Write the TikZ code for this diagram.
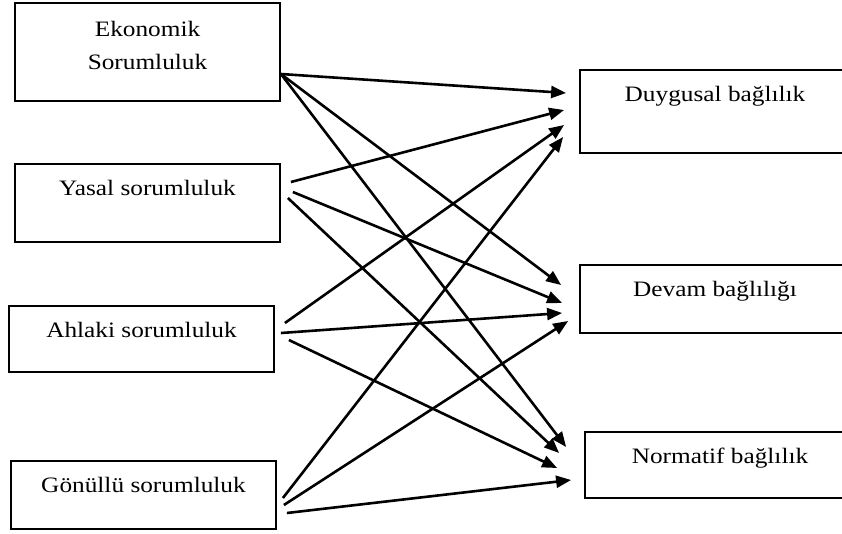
\documentclass[tikz,border=0pt]{standalone}
\usepackage{fontspec}
\setmainfont{Liberation Serif}[FakeStretch=1.15]
\usepackage{tikz}
\usetikzlibrary{arrows.meta,positioning}
\tikzset{>={Triangle[length=15pt,width=12pt]},box/.style={rectangle,draw,line width=1.8pt,minimum width=265pt,inner sep=0pt},rbox/.style={box,minimum width=270pt},box text/.style={anchor=north,inner sep=0pt,yshift=-17pt,align=center,font=\fontsize{22pt}{33pt}\selectfont},edge/.style={line width=2.6pt}}

\begin{document}
\begin{tikzpicture}[x=1pt,y=1pt]
    \path[use as bounding box, clip] (0,0) rectangle (842,-533);

    \node[box, minimum height=98pt, label={[box text, yshift=-2pt]north:{Ekonomik\\Sorumluluk}}] (eko) at (147.5,-52) {};
    \node[box, on grid, minimum height=78pt, label={[box text]north:Yasal sorumluluk}] (yasal) [below = 151pt of eko] {};
    \node[box, on grid, minimum height=66pt, label={[box text]north:Ahlaki sorumluluk}] (ahlaki) [below left = 136pt and 6pt of yasal] {};
    \node[box, on grid, minimum height=68pt, label={[box text]north:Gönüllü sorumluluk}] (gonullu) [below right = 156pt and 2pt of ahlaki] {};

    \node[rbox, on grid, minimum height=83pt, label={[box text]north:Duygusal bağlılık}] (duygusal) [below right = 59.5pt and 567.5pt of eko] {};
    \node[rbox, on grid, minimum height=68pt, label={[box text]north:Devam bağlılığı}] (devam) [below = 187.5pt of duygusal] {};
    \node[rbox, on grid, minimum height=66pt, label={[box text]north:Normatif bağlılık}] (normatif) [below right = 166pt and 5pt of devam] {};

    \path[edge] ([yshift=-22pt]eko.east) edge [->] ([xshift=-13pt,yshift=18.5pt]duygusal.west);
    \path[edge] ([yshift=-22pt]eko.east) edge [->] ([xshift=-18pt,yshift=14pt]devam.west);
    \path[edge] ([yshift=-22pt]eko.east) edge [->] ([xshift=-18pt,yshift=18pt]normatif.west);
    \path[edge] ([xshift=10pt,yshift=21pt]yasal.east) edge [->] ([xshift=-15pt,yshift=1.5pt]duygusal.west);
    \path[edge] ([xshift=12pt,yshift=11pt]yasal.east) edge [->] ([xshift=-17pt,yshift=-4pt]devam.west);
    \path[edge] ([xshift=7pt,yshift=5pt]yasal.east) edge [->] ([xshift=-25pt,yshift=12pt]normatif.west);
    \path[edge] ([xshift=10pt,yshift=16pt]ahlaki.east) edge [->] ([xshift=-15pt,yshift=-13.5pt]duygusal.west);
    \path[edge] ([xshift=6pt,yshift=6pt]ahlaki.east) edge [->] ([xshift=-17pt,yshift=-14pt]devam.west);
    \path[edge] ([xshift=14pt,yshift=-1pt]ahlaki.east) edge [->] ([xshift=-27pt,yshift=-3pt]normatif.west);
    \path[edge] ([xshift=6pt,yshift=-3pt]gonullu.east) edge [->] ([xshift=-16pt,yshift=-25.5pt]duygusal.west);
    \path[edge] ([xshift=7pt,yshift=-10pt]gonullu.east) edge [->] ([xshift=-11pt,yshift=-22pt]devam.west);
    \path[edge] ([xshift=10pt,yshift=-18pt]gonullu.east) edge [->] ([xshift=-13pt,yshift=-15pt]normatif.west);
  \end{tikzpicture}
\end{document}
